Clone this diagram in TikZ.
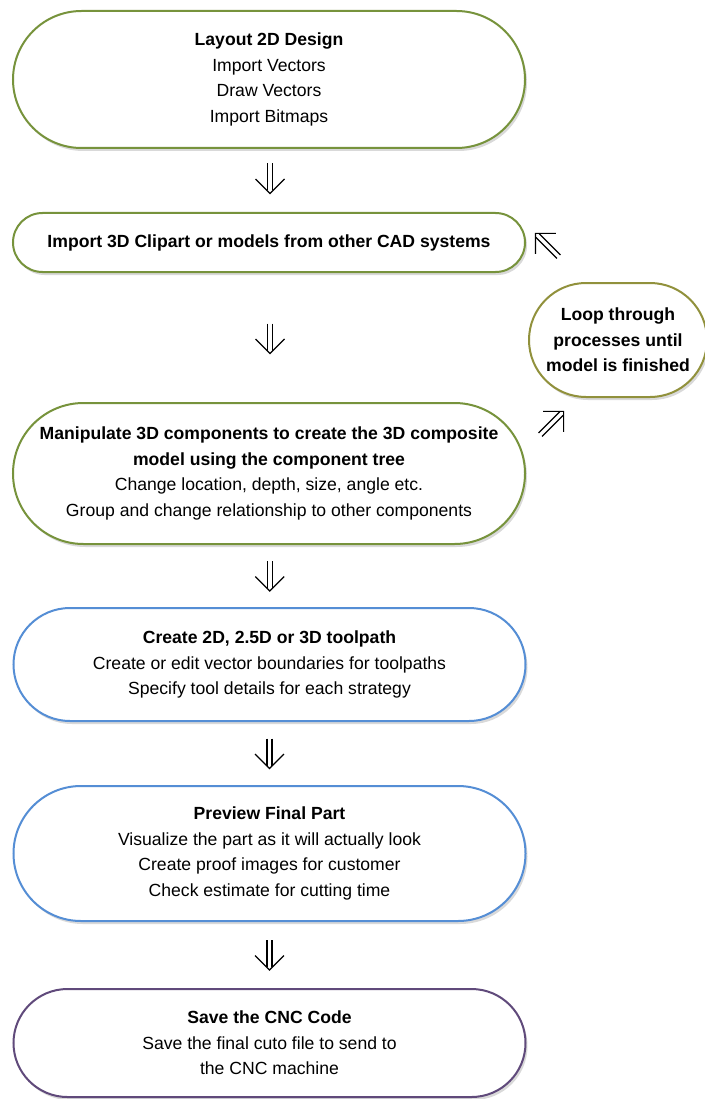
\documentclass[tikz,border=0pt]{standalone}
\usepackage{fontspec}
\setmainfont{Liberation Sans}
\usetikzlibrary{calc}
\usetikzlibrary{shapes.misc,shadows}
\definecolor{designgreen}{RGB}{119,147,60}
\definecolor{pathblue}{RGB}{85,142,213}
\definecolor{codepurple}{RGB}{96,74,123}
\definecolor{loopolive}{RGB}{145,145,60}
\tikzstyle{stage}=[rounded rectangle, draw, line width=2pt, fill=white, align=center, inner sep=0pt,
  minimum width=512pt, font=\fontsize{17.6}{25.5}\selectfont,
  drop shadow={shadow xshift=2pt, shadow yshift=-3pt, opacity=0.25, fill=black!60}]
\tikzstyle{thin}=[line width=1.2pt]

\begin{document}
\begin{tikzpicture}
        [x=1pt,y=-1pt,
         pics/dblarrow/.style={code={
            \draw [thin] (-2.5,-#1) -- (-2.5,12) (2.5,-#1) -- (2.5,12);
            \draw [thin] (-14.5,0.5) -- (0,15) -- (14.5,0.5);}},
         pics/dblarrow/.default=15]
            \useasboundingbox (0,0) rectangle (704,1099);
            \node [stage, draw=designgreen, minimum height=137pt] (layout) at (269,79.5)
                {\textbf{Layout 2D Design}\\Import Vectors\\Draw Vectors\\Import Bitmaps};
            \node [stage, draw=designgreen, minimum height=59pt] (clipart) at (269,242.5)
                {\textbf{Import 3D Clipart or models from other CAD systems}};
            \node [stage, draw=designgreen, minimum height=141pt] (manip) at (269,473.5)
                {\textbf{Manipulate 3D components to create the 3D composite}\\\textbf{model using the component tree}\\Change location, depth, size, angle etc.\\Group and change relationship to other components};
            \node [stage, draw=pathblue, minimum height=113pt] (toolpath) at (269.5,664.5)
                {\textbf{Create 2D, 2.5D or 3D toolpath}\\Create or edit vector boundaries for toolpaths\\Specify tool details for each strategy};
            \node [stage, draw=pathblue, minimum height=135pt] (preview) at (269.5,853.5)
                {\textbf{Preview Final Part}\\Visualize the part as it will actually look\\Create proof images for customer\\Check estimate for cutting time};
            \node [stage, draw=codepurple, minimum height=108pt] (cnc) at (269.5,1043)
                {\textbf{Save the CNC Code}\\Save the final cuto file to send to\\the CNC machine};
            \node [stage, draw=loopolive, minimum width=178pt, minimum height=114pt] (loop) at (618,340)
                {\textbf{Loop through}\\\textbf{processes until}\\\textbf{model is finished}};
            % arrows between stages
            \pic at ($(layout.south)!0.5!(clipart.north)+(1,-2)$) {dblarrow};
            \pic at ($(clipart.south)!0.5!(manip.north)+(1,1)$) {dblarrow};
            \pic at ($(manip.south)!0.5!(toolpath.north)+(0.5,0)$) {dblarrow};
            \pic at ($(toolpath.south)!0.5!(preview.north)$) {dblarrow};
            \pic at ($(preview.south)!0.5!(cnc.north)$) {dblarrow};
            % loop back
            \pic [rotate=225] at (546,244) {dblarrow=18};
            \pic [rotate=135] at (553,422) {dblarrow=18};
        \end{tikzpicture}
\end{document}
